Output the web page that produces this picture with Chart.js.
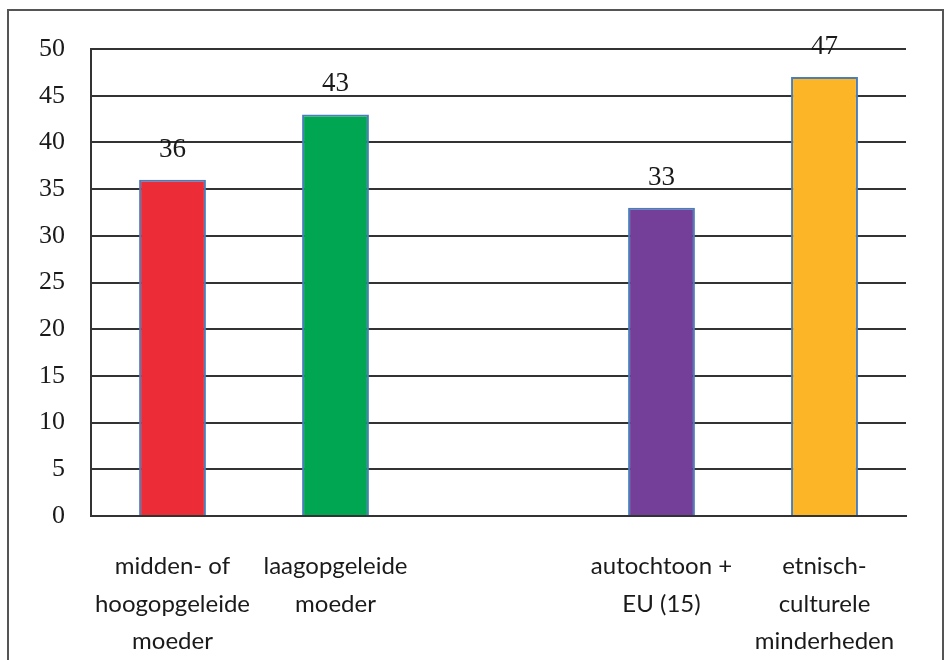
<!DOCTYPE html>
<html>
<head>
<meta charset="utf-8">
<script src="https://cdn.jsdelivr.net/npm/chart.js@4.4.0/dist/chart.umd.min.js"></script>
<style>
  html, body { margin: 0; padding: 0; background: #fff; }
  #wrap { width: 945px; height: 660px; }
</style>
</head>
<body>
<div id="wrap"><canvas id="grafiek" width="945" height="660"></canvas></div>
<script>
// categorieën (derde is lege ruimte tussen de groepen)
const categorieen = [
    ['midden- of', 'hoogopgeleide', 'moeder'],
    ['laagopgeleide', 'moeder'],
    '',
    ['autochtoon +', 'EU (15)'],
    ['etnisch-', 'culturele', 'minderheden']
];
const waarden = [36, 43, null, 33, 47];
const kleuren = ['#ec2d38', '#00a651', 'rgba(0,0,0,0)', '#743f98', '#fbb527'];
const yTicks = [0, 5, 10, 15, 20, 25, 30, 35, 40, 45, 50];

// kader rond de figuur
const kader = {
    id: 'kader',
    beforeDraw(chart) {
        const ctx = chart.ctx;
        ctx.save();
        ctx.fillStyle = '#fff';
        ctx.fillRect(0, 0, chart.width, chart.height);
        ctx.strokeStyle = '#555';
        ctx.lineWidth = 2;
        ctx.strokeRect(8, 10, 935, 700);
        ctx.restore();
    }
};

// waarden boven de staven
const labels = {
    id: 'labels',
    afterDatasetsDraw(chart) {
        const ctx = chart.ctx;
        const meta = chart.getDatasetMeta(0);
        ctx.save();
        ctx.font = '27px "Liberation Serif"';
        ctx.fillStyle = '#1a1a1a';
        ctx.textAlign = 'center';
        ctx.textBaseline = 'middle';
        meta.data.forEach((bar, i) => {
            if (waarden[i] == null) return;
            ctx.fillText(waarden[i], bar.x, bar.y - 30);
        });
        ctx.restore();
    }
};

new Chart(document.getElementById('grafiek'), {
    type: 'bar',
    data: {
        labels: categorieen,
        datasets: [{
            data: waarden,
            backgroundColor: kleuren,
            borderColor: '#4a7ebb',
            borderWidth: 2,
            categoryPercentage: 1,
            barPercentage: 0.41
        }]
    },
    options: {
        responsive: false,
        animation: false,
        layout: { padding: { top: 49, right: 39, left: 0, bottom: 0 } },
        plugins: { legend: { display: false }, tooltip: { enabled: false } },
        scales: {
            x: {
                afterFit: s => { s.height = 144; },
                grid: { display: false },
                border: { display: true, color: '#333', width: 2 },
                ticks: {
                    color: '#1a1a1a',
                    padding: 24,
                    maxRotation: 0,
                    font: { family: 'Lato', size: 24, lineHeight: 1.55 }
                }
            },
            y: {
                min: 0,
                max: 50,
                afterFit: s => { s.width = 91; },
                afterBuildTicks: s => { s.ticks = yTicks.map(v => ({ value: v })); },
                grid: { color: '#333', lineWidth: 2, drawTicks: false },
                border: { display: true, color: '#333', width: 2 },
                ticks: {
                    color: '#1a1a1a',
                    padding: 26,
                    font: { family: 'Liberation Serif', size: 26 }
                }
            }
        }
    },
    plugins: [kader, labels]
});
</script>
</body>
</html>
